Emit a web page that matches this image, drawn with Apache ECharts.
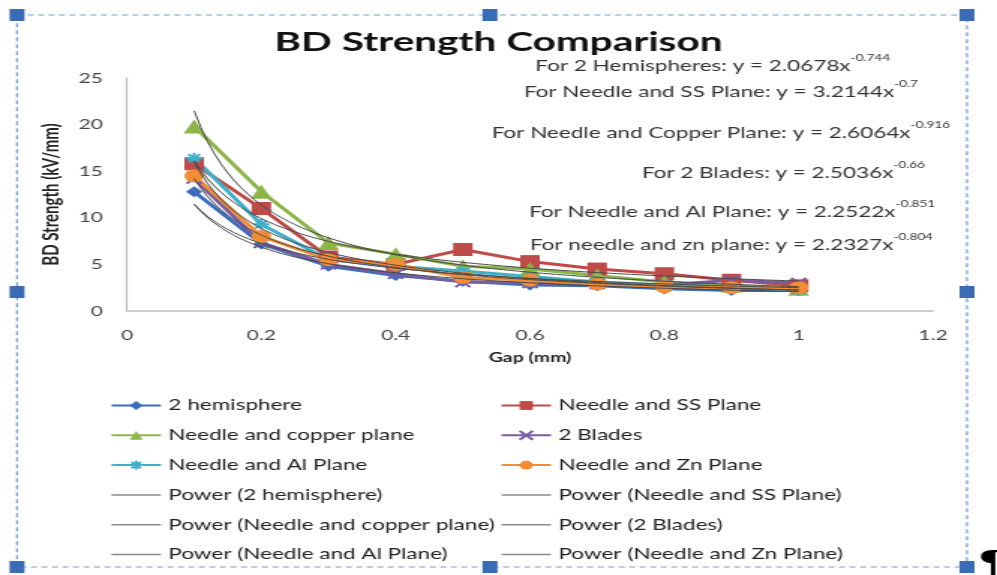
<!DOCTYPE html>
<html>
<head>
<meta charset="utf-8">
<script src="https://cdn.jsdelivr.net/npm/echarts@6/dist/echarts.min.js"></script>
<style>
  html, body { margin: 0; padding: 0; background: #ffffff; overflow: hidden; }
  /* The chart is laid out on a narrower canvas and widened to the page width */
  #chart { width: 665px; height: 575px; transform: scaleX(1.4992); transform-origin: 0 0; }
</style>
</head>
<body>
<div id="chart"></div>
<script>
// Gap values (mm) at which breakdown strength was measured
const gaps = [0.1, 0.2, 0.3, 0.4, 0.5, 0.6, 0.7, 0.8, 0.9, 1.0];

// Measured BD strength (kV/mm) per electrode arrangement
const hemisphere = [12.8, 7.2, 4.8, 3.8, 3.2, 2.8, 2.7, 2.4, 2.2, 2.2];
const needleSS   = [15.8, 11.0, 5.8, 5.0, 6.6, 5.3, 4.5, 4.0, 3.3, 2.7];
const needleCu   = [19.8, 12.8, 7.3, 6.1, 4.8, 4.5, 3.8, 3.1, 2.7, 2.4];
const blades     = [14.2, 7.3, 5.0, 4.0, 3.1, 3.0, 2.9, 2.8, 3.3, 3.0];
const needleAl   = [16.4, 9.3, 5.5, 4.8, 4.3, 3.7, 3.1, 2.8, 2.6, 2.2];
const needleZn   = [14.5, 8.0, 5.5, 5.0, 3.6, 3.3, 2.9, 2.6, 2.5, 2.5];

// Power-law fits y = a * x^b as stated in the equation labels
const fitA = [2.0678, 3.2144, 2.6064, 2.5036, 2.2522, 2.2327];
const fitB = [-0.744, -0.7, -0.916, -0.66, -0.851, -0.804];

const seriesNames = ['2 hemisphere', 'Needle and SS Plane', 'Needle and copper plane',
                     '2 Blades', 'Needle and Al Plane', 'Needle and Zn Plane'];
const equationPrefixes = ['For 2 Hemispheres: y = 2.0678x', 'For Needle and SS Plane: y = 3.2144x',
                          'For Needle and Copper Plane: y = 2.6064x', 'For 2 Blades: y = 2.5036x',
                          'For Needle and Al Plane: y = 2.2522x', 'For needle and zn plane: y = 2.2327x'];
const equationExponents = ['-0.744', '-0.7', '-0.916', '-0.66', '-0.851', '-0.804'];

const yTicks = { min: 0, max: 25, interval: 5 };
const xTicks = { min: 0, max: 1.2, interval: 0.2 };

// Horizontal stretch applied to the canvas by CSS; page x positions are divided by it
const SX = 1.4992;
const px = v => v / SX;

const measured = [hemisphere, needleSS, needleCu, blades, needleAl, needleZn];
const colors = ['#3C6EBF', '#BE4B48', '#8DB548', '#7A5CA3', '#3FAFCB', '#F28C35'];
const symbols = [
  'diamond',
  'rect',
  'triangle',
  'path://M0,0L10,10M10,0L0,10',
  'path://M5,0L5,10M0,5L10,5M1.5,1.5L8.5,8.5M8.5,1.5L1.5,8.5',
  'circle'
];
const symbolSizes = [11, 13, 14, 10, 11, 13];

const FONT = 'Lato, "Open Sans", sans-serif';
const TREND = '#4a4a4a';

const dataSeries = measured.map((vals, i) => ({
  name: seriesNames[i],
  type: 'line',
  data: gaps.map((g, k) => [g, vals[k]]),
  symbol: symbols[i],
  symbolSize: symbolSizes[i],
  lineStyle: { color: colors[i], width: 3 },
  itemStyle: { color: colors[i], borderColor: colors[i], borderWidth: (i === 3 || i === 4) ? 2 : 0 },
  z: 2
}));

// Trendline curves evaluated from the fitted coefficients across the measured gap range
const trendX = [];
for (let k = 0; k <= 90; k++) trendX.push(0.1 + k * 0.01);
const trendSeries = fitA.map((a, i) => ({
  name: 'Power (' + seriesNames[i] + ')',
  type: 'line',
  data: trendX.map(x => [x, a * Math.pow(x, fitB[i])]),
  symbol: 'none',
  lineStyle: { color: TREND, width: 1 },
  itemStyle: { color: TREND },
  z: 3
}));

// Legend entries arranged in two columns (row-major pairs)
const legendEntry = (name, isTrend) => isTrend
  ? { name: name, itemStyle: { opacity: 0 }, lineStyle: { color: '#8a8a8a', width: 1.5 } }
  : { name: name };
const leftLegend = [
  legendEntry(seriesNames[0]), legendEntry(seriesNames[2]), legendEntry(seriesNames[4]),
  legendEntry('Power (' + seriesNames[0] + ')', true),
  legendEntry('Power (' + seriesNames[2] + ')', true),
  legendEntry('Power (' + seriesNames[4] + ')', true)
];
const rightLegend = [
  legendEntry(seriesNames[1]), legendEntry(seriesNames[3]), legendEntry(seriesNames[5]),
  legendEntry('Power (' + seriesNames[1] + ')', true),
  legendEntry('Power (' + seriesNames[3] + ')', true),
  legendEntry('Power (' + seriesNames[5] + ')', true)
];

const legendCommon = {
  orient: 'vertical',
  top: 398,
  padding: 0,
  itemWidth: 33,
  itemHeight: 11,
  itemGap: 14.8,
  textStyle: { fontFamily: FONT, fontSize: 15, color: '#222' },
  selectedMode: false
};

// Equation label positions (right edge x on the page, centre y)
const eqPos = [[890, 64], [918, 90], [950, 131], [925, 171], [935, 210], [933, 243]];
const eqGraphics = equationPrefixes.map((t, i) => ({
  type: 'text',
  right: 665 - px(eqPos[i][0]),
  top: eqPos[i][1] - 10,
  style: {
    text: '{m|' + t + '}{s|' + equationExponents[i] + '}',
    rich: {
      m: { fontFamily: FONT, fontSize: 15, fill: '#333', verticalAlign: 'bottom', lineHeight: 20 },
      s: { fontFamily: FONT, fontSize: 9, fill: '#333', verticalAlign: 'top', lineHeight: 20, padding: [0, 0, 10, 0] }
    }
  },
  z: 10
}));

// Selection frame around the chart object
const frameColor = '#3C6BB5';
const handles = [[17, 15], [490, 15], [967, 15], [17, 292], [967, 292], [17, 567], [490, 567], [967, 567]];
const frameGraphics = [{
  type: 'rect',
  shape: { x: px(17), y: 15, width: px(950), height: 552 },
  style: { fill: 'none', stroke: '#6C9BE0', lineWidth: 1.2, lineDash: [4, 3] },
  z: 20
}].concat(handles.map(h => ({
  type: 'rect',
  shape: { x: px(h[0]) - 5, y: h[1] - 6, width: 10, height: 12 },
  style: { fill: frameColor },
  z: 21
}))).concat([{
  type: 'text',
  x: px(978),
  y: 549,
  style: { text: '¶', fontFamily: '"DejaVu Sans", sans-serif', fontSize: 32, fontWeight: 'bold', fill: '#000' },
  z: 22
}]);

const chart = echarts.init(document.getElementById('chart'));
chart.setOption({
  backgroundColor: '#ffffff',
  animation: false,
  title: {
    text: 'BD Strength Comparison',
    left: 'center',
    top: 24,
    textStyle: { fontFamily: FONT, fontSize: 27, fontWeight: 'bold', color: '#111' }
  },
  grid: { left: px(127), right: 665 - px(933), top: 78, bottom: 264 },
  xAxis: {
    type: 'value',
    min: xTicks.min, max: xTicks.max, interval: xTicks.interval,
    name: 'Gap (mm)',
    nameLocation: 'middle',
    nameGap: 40,
    nameTextStyle: { fontFamily: FONT, fontSize: 13, fontWeight: 'bold', color: '#222' },
    axisLine: { lineStyle: { color: '#BDBDBD', width: 1.5 } },
    axisTick: { show: false },
    splitLine: { show: false },
    axisLabel: { fontFamily: FONT, fontSize: 14, color: '#444', margin: 17 }
  },
  yAxis: {
    type: 'value',
    min: yTicks.min, max: yTicks.max, interval: yTicks.interval,
    name: 'BD Strength (kV/mm)',
    nameLocation: 'middle',
    nameGap: 36,
    nameRotate: 90,
    nameTextStyle: { fontFamily: FONT, fontSize: 15, fontWeight: 'bold', color: '#222' },
    axisLine: { show: true, lineStyle: { color: '#BDBDBD', width: 1.2 } },
    axisTick: { show: false },
    splitLine: { show: false },
    axisLabel: { fontFamily: FONT, fontSize: 14, color: '#444', margin: 16 }
  },
  legend: [
    Object.assign({ left: px(110), data: leftLegend }, legendCommon),
    Object.assign({ left: px(500), data: rightLegend }, legendCommon)
  ],
  series: dataSeries.concat(trendSeries),
  graphic: eqGraphics.concat(frameGraphics)
});
</script>
</body>
</html>
